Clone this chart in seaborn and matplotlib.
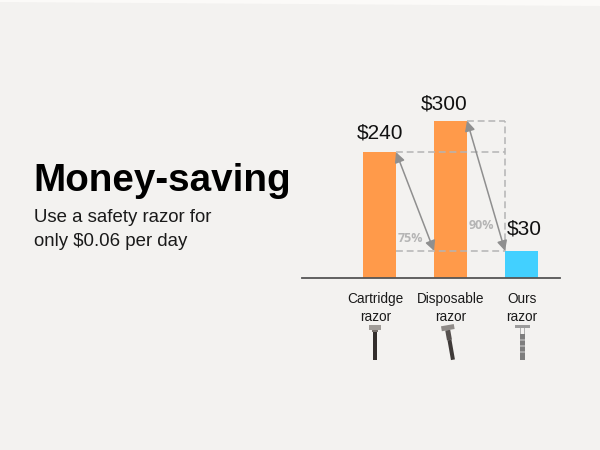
import matplotlib
matplotlib.use("Agg")
import matplotlib.pyplot as plt
import pandas as pd
import seaborn as sns
from matplotlib.patches import FancyArrowPatch, Polygon, Rectangle
from matplotlib.transforms import Affine2D, ScaledTranslation

# heights are as drawn in the picture, the $30 bar is taller than its value
categories = ["Cartridge\nrazor", "Disposable\nrazor", "Ours\nrazor"]
bar_heights = [240, 300, 51]
price_labels = ["$240", "$300", "$30"]
bar_colors = ["#FF9A4A", "#FF9A4A", "#42D0FF"]
saving_labels = ["75%", "90%"]

BG = "#F3F2F0"
ARROW = "#8F8F8F"
DASH = "#B4B4B4"

sns.set_theme(style="white")
plt.rcParams["font.family"] = ["Liberation Sans", "DejaVu Sans"]

W, H = 600, 450
fig = plt.figure(figsize=(6, 4.5), dpi=100, facecolor=BG)
px = Affine2D().scale(1, -1).translate(0, H)

# the picture is slightly skewed, a pale sliver shows along the top
fig.add_artist(Polygon([(0, 0), (W, 0), (W, 6), (0, 2)], facecolor="#FBFAF8", edgecolor="none", transform=px))

ax = fig.add_axes([302 / W, 1 - 277.5 / H, (560 - 302) / W, (277.5 - 90) / H])
ax.set_facecolor("none")

df = pd.DataFrame({"razor": categories, "cost": bar_heights})
sns.barplot(
    data=df, x="razor", y="cost", hue="razor", palette=bar_colors,
    width=33 / 71, legend=False, saturation=1, linewidth=0, ax=ax,
)
ax.set_xlim(-1.092, 2.542)
ax.set_ylim(0, 359)
ax.set_xlabel("")
ax.set_ylabel("")
ax.set_yticks([])
sns.despine(ax=ax, left=True)
ax.spines["bottom"].set_color("#555555")
ax.spines["bottom"].set_linewidth(1.3)
ax.tick_params(axis="x", length=0, pad=10.5, labelsize=9.8, labelcolor="#1a1a1a")

# first label sits a little left of its bar
ticklabels = ax.get_xticklabels()
offset = ScaledTranslation(-4 / 100, 0, fig.dpi_scale_trans)
ticklabels[0].set_transform(ticklabels[0].get_transform() + offset)
ticklabels[2].set_transform(ticklabels[2].get_transform() + ScaledTranslation(0.5 / 100, 0, fig.dpi_scale_trans))
for t in ticklabels:
    t.set_linespacing(1.4)

bars = list(ax.patches)[:3]
left = [b.get_x() for b in bars]
right = [b.get_x() + b.get_width() for b in bars]
top = [b.get_height() for b in bars]

# dashed guides between the bars
dash = dict(color=DASH, lw=1.1, ls=(0, (4.5, 2.5)), zorder=1)
ax.plot([right[0], left[2]], [top[0], top[0]], **dash)
ax.plot([right[1], left[2]], [top[1], top[1]], **dash)
ax.plot([right[0], left[2]], [top[2], top[2]], **dash)
ax.plot([left[2], left[2]], [top[2], top[1]], **dash)

for start, end in [((right[0], top[0]), (left[1], top[2])), ((right[1], top[1]), (left[2], top[2]))]:
    ax.add_patch(FancyArrowPatch(
        start, end, arrowstyle="<|-|>", mutation_scale=15, color=ARROW,
        lw=1.1, shrinkA=0, shrinkB=0, zorder=4,
    ))

label_offsets = [(0.5, 7), (-4.5, 5.5), (2.2, 9)]
for i, label in enumerate(price_labels):
    ax.annotate(
        label, (i, top[i]), xytext=label_offsets[i],
        textcoords="offset points", ha="center", va="bottom", fontsize=15, color="#111111",
    )

ax.text(0.44, 75, saving_labels[0], ha="center", va="center", fontsize=9, fontweight="bold",
        color="#B5B5B5", family="Open Sans")
ax.text(1.44, 100, saving_labels[1], ha="center", va="center", fontsize=9, fontweight="bold",
        color="#B5B5B5", family="Open Sans")

fig.text(33 / W, 1 - 191 / H, "Money-saving", fontsize=27.8, fontweight="bold", color="black")
fig.text(34 / W, 1 - 222 / H, "Use a safety razor for", fontsize=13.4, color="#1a1a1a")
fig.text(34 / W, 1 - 246 / H, "only $0.06 per day", fontsize=13.4, color="#1a1a1a")


# small razor icons, in pixels from the top left
def icon_rect(x, y, w, h, color, tilt=None):
    tr = px if tilt is None else Affine2D().rotate_deg_around(tilt[0], tilt[1], tilt[2]) + px
    fig.add_artist(Rectangle((x, y), w, h, facecolor=color, edgecolor="none", transform=tr))


# cartridge
icon_rect(369, 325, 12, 5, "#A09C98")
icon_rect(372, 330, 6, 2, "#77706C")
icon_rect(373, 332, 4, 28, "#332E2C")
# disposable, leaning left
t = (450, 343, -10)
icon_rect(444, 325, 13, 5, "#8F8B88", t)
icon_rect(447.5, 330, 5, 10, "#55504E", t)
icon_rect(448, 340, 4, 20, "#3E3A38", t)
# ours
icon_rect(515, 325, 15, 2.5, "#9C9C9C")
icon_rect(520, 327.5, 1, 7, "#B0B0B0")
icon_rect(524, 327.5, 1, 7, "#B0B0B0")
icon_rect(520, 334, 5, 26, "#7E7E7E")
for y in (339, 345, 351):
    icon_rect(520, y, 5, 1.5, "#A8A8A8")

fig.savefig("out.png", dpi=100, facecolor=BG)
